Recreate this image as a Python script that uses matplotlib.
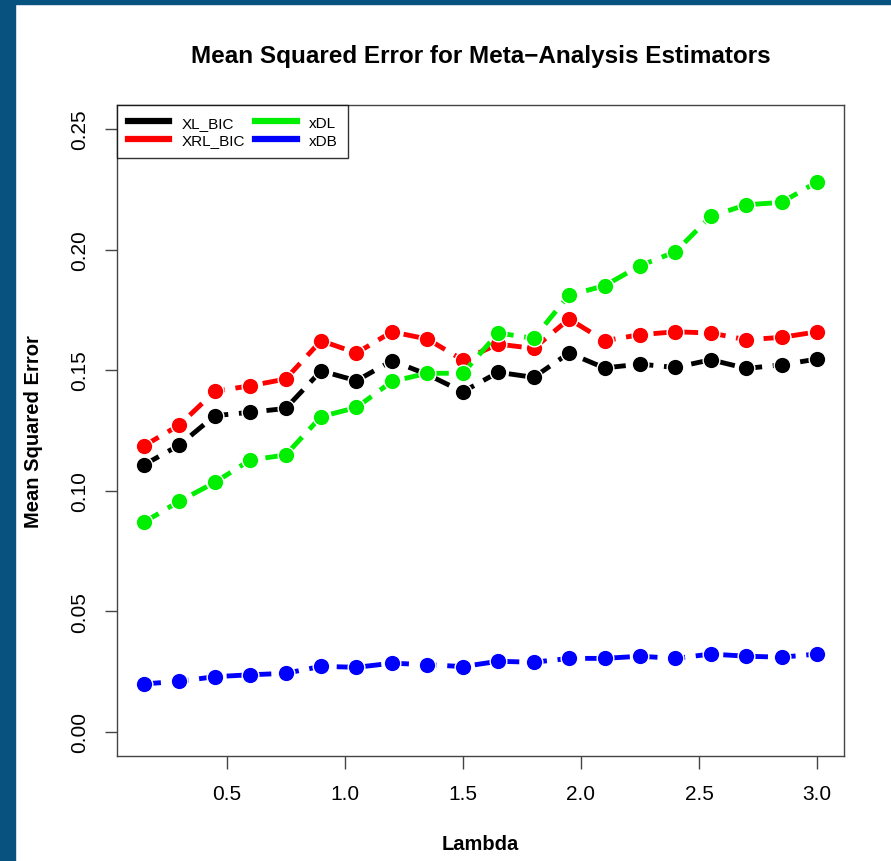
import matplotlib
matplotlib.use("Agg")
import matplotlib.pyplot as plt
from matplotlib.lines import Line2D
from matplotlib.patches import Rectangle

plt.rcParams['font.family'] = ['Liberation Sans', 'DejaVu Sans']

# data
lam = [0.15, 0.30, 0.45, 0.60, 0.75, 0.90, 1.05, 1.20, 1.35, 1.50,
       1.65, 1.80, 1.95, 2.10, 2.25, 2.40, 2.55, 2.70, 2.85, 3.00]
xl_bic = [0.1107, 0.1189, 0.1311, 0.1325, 0.1341, 0.1497, 0.1456, 0.1539, 0.1482, 0.1410,
          0.1491, 0.1470, 0.1571, 0.1509, 0.1525, 0.1511, 0.1543, 0.1507, 0.1522, 0.1546]
xrl_bic = [0.1186, 0.1272, 0.1412, 0.1435, 0.1463, 0.1622, 0.1571, 0.1659, 0.1629, 0.1542,
           0.1608, 0.1590, 0.1712, 0.1622, 0.1647, 0.1659, 0.1654, 0.1626, 0.1636, 0.1659]
xdl = [0.0869, 0.0956, 0.1034, 0.1127, 0.1148, 0.1307, 0.1345, 0.1453, 0.1487, 0.1487,
       0.1654, 0.1632, 0.1811, 0.1850, 0.1933, 0.1991, 0.2138, 0.2186, 0.2196, 0.2281]
xdb = [0.0198, 0.0209, 0.0228, 0.0236, 0.0242, 0.0271, 0.0267, 0.0284, 0.0278, 0.0270,
       0.0292, 0.0288, 0.0304, 0.0304, 0.0313, 0.0304, 0.0322, 0.0313, 0.0309, 0.0322]

series = [("XL_BIC", xl_bic, "black"),
          ("XRL_BIC", xrl_bic, "#ff0000"),
          ("xDL", xdl, "#00ee00"),
          ("xDB", xdb, "#0000ff")]

fig = plt.figure(figsize=(8.91, 8.62), dpi=100)
fig.patch.set_facecolor("white")
# dark blue frame of the slide
fig.patches.append(Rectangle((0, 0), 15 / 891, 1, transform=fig.transFigure,
                             color="#08527f", zorder=0))
fig.patches.append(Rectangle((0, 1 - 5 / 862), 1, 5 / 862, transform=fig.transFigure,
                             color="#08527f", zorder=0))

ax = fig.add_axes([117 / 891, 1 - 757 / 862, 727 / 891, 651 / 862])

for name, vals, col in series:
    ax.plot(lam, vals, color=col, lw=3.5, ls=(0, (3.5, 2.2)), marker="o",
            markersize=12, markeredgecolor="white", markeredgewidth=1.0)

ax.set_xlim(0.036, 3.114)
ax.set_ylim(-0.0101, 0.26)
ax.set_xticks([0.5, 1.0, 1.5, 2.0, 2.5, 3.0])
ax.set_xticklabels(["0.5", "1.0", "1.5", "2.0", "2.5", "3.0"])
ax.set_yticks([0.00, 0.05, 0.10, 0.15, 0.20, 0.25])
ax.set_yticklabels(["0.00", "0.05", "0.10", "0.15", "0.20", "0.25"],
                   rotation=90, va="center")
ax.tick_params(axis="both", direction="out", length=9, width=1.0,
               color="#444444", labelsize=15)
ax.tick_params(axis="x", pad=11)
ax.tick_params(axis="y", pad=11)
for sp in ax.spines.values():
    sp.set_color("#444444")
    sp.set_linewidth(1.0)

ax.text(0.5, 1 + (106 - 56) / 651, "Mean Squared Error for Meta\u2212Analysis Estimators",
        transform=ax.transAxes, ha="center", va="center",
        fontsize=17.5, fontweight="bold")
ax.set_xlabel("Lambda", fontsize=14.5, fontweight="bold", va="center")
ax.xaxis.set_label_coords(0.5, -(845 - 757) / 651)
ax.set_ylabel("Mean Squared Error", fontsize=14.5, fontweight="bold", va="center")
ax.yaxis.set_label_coords(-(117 - 33) / 727, 0.5)

handles = [Line2D([0], [0], color=col, lw=4.5) for _, _, col in series]
labels = [name for name, _, _ in series]
leg = ax.legend(handles, labels, loc="upper left", ncol=2, fontsize=11,
                frameon=True, fancybox=False, edgecolor="black",
                borderaxespad=0, handlelength=2.7, handletextpad=0.8,
                columnspacing=0.7, labelspacing=0.25, borderpad=0.7)
leg.get_frame().set_linewidth(1.0)

fig.savefig("out.png", dpi=100)
